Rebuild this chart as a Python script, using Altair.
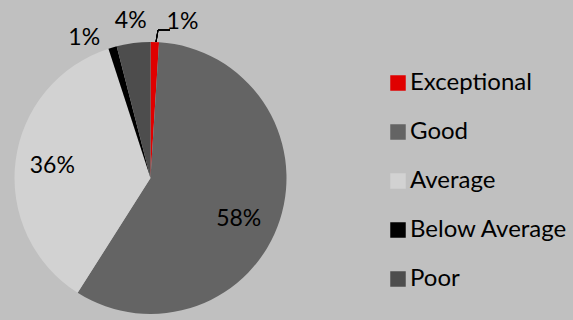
import altair as alt
import pandas as pd

categories = ["Exceptional", "Good", "Average", "Below Average", "Poor"]
values = [1, 58, 36, 1, 4]
labels = ["1%", "58%", "36%", "1%", "4%"]
colors = ["#E00000", "#646464", "#D2D2D2", "#000000", "#4D4D4D"]

df = pd.DataFrame({"category": categories, "value": values, "label": labels,
                   "order": list(range(len(categories)))})

FONT = "Lato"
LABEL_SIZE = 23
theta_scale = alt.Scale(domain=[0, 100])

base = alt.Chart(df).transform_window(
    cum="sum(value)", sort=[alt.SortField("order")], frame=[None, 0]
).transform_calculate(
    start="datum.cum - datum.value", mid="datum.cum - datum.value / 2"
)

arcs = base.mark_arc(outerRadius=136, stroke=None).encode(
    theta=alt.Theta("start:Q", scale=theta_scale),
    theta2="cum:Q",
    color=alt.Color(
        "category:N",
        sort=categories,
        scale=alt.Scale(domain=categories, range=colors),
        legend=alt.Legend(
            title=None, orient="none", legendX=386, legendY=29, padding=0,
            symbolType="square", symbolSize=240, symbolStrokeWidth=0,
            labelFontSize=24, labelFont=FONT, labelColor="#000000",
            rowPadding=25, labelOffset=0, labelLimit=300,
        ),
    ),
)

def label_layer(cond, radius, dx=0, dy=0):
    return base.transform_filter(cond).mark_text(
        radius=radius, fontSize=LABEL_SIZE, font=FONT, color="#000000", dx=dx, dy=dy
    ).encode(theta=alt.Theta("mid:Q", scale=theta_scale), text="label:N")

good = label_layer("datum.category == 'Good'", 97, dx=-4, dy=11)
avg = label_layer("datum.category == 'Average'", 99)
poor = label_layer("datum.category == 'Poor'", 158)
below = label_layer("datum.category == 'Below Average'", 155, dx=-23, dy=9)
exc = label_layer("datum.category == 'Exceptional'", 158, dx=27, dy=2)

lead1 = alt.Chart(df).mark_rule(color="#000000", strokeWidth=1).encode(
    x=alt.value(156), y=alt.value(0), x2=alt.value(158), y2=alt.value(-12))
lead2 = alt.Chart(df).mark_rule(color="#000000", strokeWidth=1).encode(
    x=alt.value(158), y=alt.value(-12), x2=alt.value(170), y2=alt.value(-12))

chart = alt.layer(arcs, good, avg, poor, below, exc, lead1, lead2).properties(
    width=301, height=272,
    autosize=alt.AutoSizeParams(type="none"),
    padding={"left": 0, "top": 42, "right": 272, "bottom": 6},
    background="#C0C0C0",
).configure_view(stroke=None)

chart.save("out.html", embed_options={"renderer": "svg", "actions": False})
